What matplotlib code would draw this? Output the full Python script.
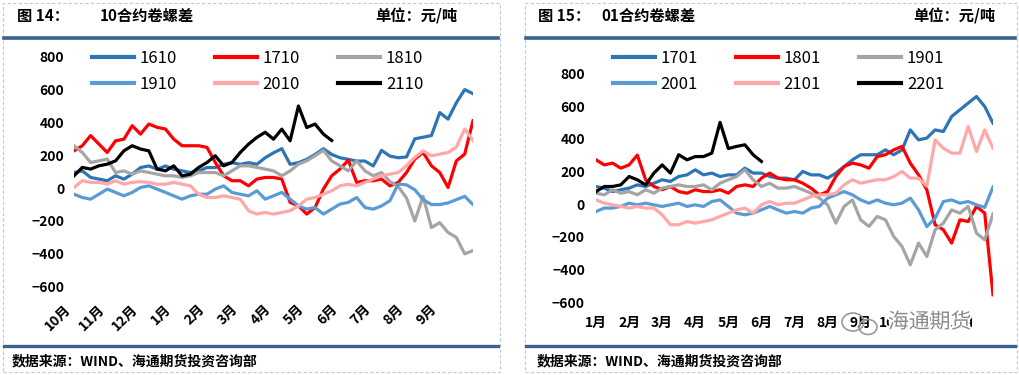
import numpy as np
import matplotlib
matplotlib.use("Agg")
import matplotlib.pyplot as plt
from matplotlib.lines import Line2D
from matplotlib.patches import Rectangle, Ellipse
import matplotlib.patheffects as pe

plt.rcParams['font.family'] = ['Noto Sans CJK SC', 'DejaVu Sans']

# ---------------- data ----------------
left_ticklabels = ['10月', '11月', '12月', '1月', '2月', '3月', '4月', '5月', '6月', '7月', '8月', '9月']
right_ticklabels = ['1月', '2月', '3月', '4月', '5月', '6月', '7月', '8月', '9月', '10月', '11月', '12月']

left_names = ['1610', '1710', '1810', '1910', '2010', '2110']
right_names = ['1701', '1801', '1901', '2001', '2101', '2201']

s1610 = [95, 105, 65, 55, 45, 75, 55, 85, 125, 135, 115, 135, 115, 105, 95, 105, 125, 125, 145, 155,
         145, 155, 145, 185, 215, 240, 145, 155, 175, 205, 240, 205, 185, 175, 165, 165, 135, 230, 195, 185,
         190, 300, 310, 320, 460, 420, 520, 600, 575]
s1710 = [227, 258, 320, 268, 217, 288, 298, 380, 329, 390, 370, 360, 298, 258, 258, 258, 248, 156, 75, 45,
         45, 14, 55, 65, 65, 55, -87, -108, -158, -118, -6, 75, 116, 170, 35, 45, 45, 55, 14, 35,
         95, 177, 217, 136, 95, 4, 166, 207, 410]
s1810 = [258, 217, 156, 166, 177, 95, 105, 85, 105, 95, 85, 75, 75, 65, 75, 95, 95, 95, 75, 105,
         136, 136, 126, 116, 105, 75, 105, 146, 166, 197, 230, 166, 136, 105, 166, 105, 75, 95, 40, 10,
         -60, -200, -50, -240, -210, -270, -300, -400, -380]
s1910 = [-37, -57, -67, -37, -6, -26, -47, -26, 4, 14, -6, -26, -47, -67, -47, -37, -37, -6, 14, -26,
         -37, -47, -16, -67, -47, -26, -67, -108, -128, -118, -158, -128, -97, -87, -57, -118, -128, -108, -77, 25,
         20, -10, -70, -100, -100, -90, -70, -50, -100]
s2010 = [4, 45, 35, 35, 24, 45, 24, 35, 39, 35, 24, 24, 35, 24, 14, -37, -57, -57, -47, -57,
         -67, -138, -158, -148, -158, -148, -138, -108, -67, -57, -37, -16, 14, 24, 14, 35, 55, 75, 85, 95,
         136, 187, 227, 197, 207, 217, 250, 360, 290]
s2110 = [75, 126, 116, 136, 146, 166, 227, 258, 238, 227, 116, 105, 136, 75, 85, 126, 156, 197, 136, 156,
         217, 268, 309, 340, 298, 359, 288, 500, 369, 390, 329, 290]

s1701 = [108, 98, 77, 88, 98, 118, 108, 128, 149, 139, 169, 179, 210, 179, 190, 169, 179, 179, 220, 190,
         190, 169, 159, 159, 149, 200, 179, 179, 159, 190, 230, 271, 302, 302, 302, 332, 302, 332, 454, 393,
         404, 454, 444, 536, 577, 618, 658, 597, 495]
s1801 = [271, 240, 251, 220, 240, 300, 149, 108, 88, 108, 77, 67, 88, 77, 77, 88, 67, 108, 118, 108,
         159, 190, 159, 149, 149, 128, 98, 57, 77, 169, 230, 251, 240, 220, 291, 302, 332, 353, 251, 179,
         88, -126, -157, -238, -96, -106, -14, -55, -554]
s1901 = [67, 57, 88, 67, 77, 57, 88, 67, 98, 108, 118, 108, 108, 118, 88, 128, 149, 169, 210, 149,
         108, 128, 98, 98, 108, 88, 67, 37, -4, -116, -14, 26, -96, -136, -75, -96, -198, -259, -371, -238,
         -320, -157, -116, -35, -55, -14, -177, -218, -60]
s2001 = [-45, -24, -24, -14, 6, -4, 6, -4, -14, -4, 6, -14, -4, -14, 16, 26, -14, -55, -65, -55,
         -35, -14, -35, -55, -45, -55, -24, -14, 37, 57, 77, 57, 26, 6, 26, 6, -4, 6, 37, -35,
         -137, -86, 16, 26, 6, 16, -4, -20, 105]
s2101 = [26, 6, -4, -14, -24, -14, -24, -24, -65, -126, -126, -106, -116, -106, -96, -75, -55, -35, -24, -55,
         -4, 16, -4, 6, 6, 26, 47, 57, 57, 67, 118, 149, 128, 139, 149, 149, 169, 200, 159, 159,
         110, 393, 342, 312, 312, 475, 322, 454, 342]
s2201 = [77, 108, 108, 118, 169, 149, 118, 190, 240, 190, 302, 271, 291, 291, 312, 500, 340, 353, 363, 302, 261]

yticks = [-600, -400, -200, 0, 200, 400, 600, 800]

colors = ['#2E75B6', '#FF0000', '#A5A5A5', '#5B9BD5', '#FFA8A8', '#000000']

W, H = 1020, 375
fig = plt.figure(figsize=(W / 100, H / 100), dpi=100)


def fx(x):
    return x / W


def fy(y):
    return 1 - y / H


def make_axes(x0, x1, ytop, ybot):
    return fig.add_axes([fx(x0), fy(ybot), fx(x1) - fx(x0), fy(ytop) - fy(ybot)])


def draw(ax, series, names):
    for s, n, c in zip(series, names, colors):
        x = np.arange(len(s)) * 0.25
        ax.plot(x, s, color=c, lw=2.3, label=n, solid_joinstyle='round')
    ax.set_xlim(0, 12)
    ax.set_ylim(-600, 800)
    ax.set_yticks(yticks)
    ax.set_yticklabels([str(v).replace('-', '\u2212') for v in yticks], fontsize=10, fontweight='bold')
    for sp in ax.spines.values():
        sp.set_visible(False)
    ax.tick_params(length=0)
    ax.patch.set_alpha(0)


# left chart
axL = make_axes(74, 473, 56.7, 286.7)
draw(axL, [s1610, s1710, s1810, s1910, s2010, s2110], left_names)
axL.set_xticks(np.arange(12))
axL.set_xticklabels(left_ticklabels, rotation=45, ha='right', va='top', fontsize=10, fontweight='bold')
axL.tick_params(axis='y', pad=7)
axL.tick_params(axis='x', pad=11)

# right chart
axR = make_axes(596, 993, 73.3, 302.3)
draw(axR, [s1701, s1801, s1901, s2001, s2101, s2201], right_names)
axR.set_xticks(np.arange(12))
axR.set_xticklabels(right_ticklabels, fontsize=10, fontweight='bold')
axR.tick_params(axis='y', pad=8)
axR.tick_params(axis='x', pad=10)

# legends (row-wise order: matplotlib fills column by column)
order = [0, 3, 1, 4, 2, 5]
for ax, x0 in ((axL, 92), (axR, 613)):
    h, l = ax.get_legend_handles_labels()
    ax.legend([h[i] for i in order], [l[i] for i in order], ncol=3, loc='upper left',
              bbox_to_anchor=(fx(x0), fy(50)), bbox_transform=fig.transFigure,
              frameon=False, fontsize=12, handlelength=2.5, handletextpad=0.35, columnspacing=2.3,
              labelspacing=0.55, borderpad=0, borderaxespad=0)
    for ln in ax.get_legend().get_lines():
        ln.set_linewidth(3)

# panel decorations
blue = '#3B6294'
for (a, b) in ((3, 500), (525, 1017)):
    fig.add_artist(Rectangle((fx(a), fy(372)), fx(b) - fx(a), fy(3) - fy(372), transform=fig.transFigure,
                             fill=False, ec='#C8C8C8', lw=0.8, ls=(0, (3, 2))))
    fig.add_artist(Line2D([fx(a + 1), fx(b - 2)], [fy(37.5)] * 2, color=blue, lw=2.6))
    fig.add_artist(Line2D([fx(a + 1), fx(b - 2)], [fy(346)] * 2, color=blue, lw=2.4))

hdr = dict(fontsize=11, fontweight='bold', va='center', ha='left')
fig.text(fx(17), fy(16), '图 14：', **hdr)
fig.text(fx(100), fy(16), '10合约卷螺差', **hdr)
fig.text(fx(375), fy(16), '单位：元/吨', **hdr)
fig.text(fx(538), fy(16), '图 15：', **hdr)
fig.text(fx(601), fy(16), '01合约卷螺差', **hdr)
fig.text(fx(913), fy(16), '单位：元/吨', **hdr)

src = dict(fontsize=10, fontweight='bold', va='center', ha='left')
fig.text(fx(12), fy(361), '数据来源：WIND、海通期货投资咨询部', **src)
fig.text(fx(537), fy(361), '数据来源：WIND、海通期货投资咨询部', **src)

# watermark
for (cx, cy, w, h) in ((853, 322, 22, 18), (868, 327, 18, 15)):
    fig.add_artist(Ellipse((fx(cx), fy(cy)), fx(w), fy(0) - fy(h), transform=fig.transFigure,
                           fill=False, ec='#9A9A9A', lw=1.2))
fig.text(fx(888), fy(322), '海通期货', fontsize=15, color='#8A8A8A', va='center', ha='left',
         path_effects=[pe.withStroke(linewidth=3, foreground='white')])

fig.savefig('out.png', dpi=100)
